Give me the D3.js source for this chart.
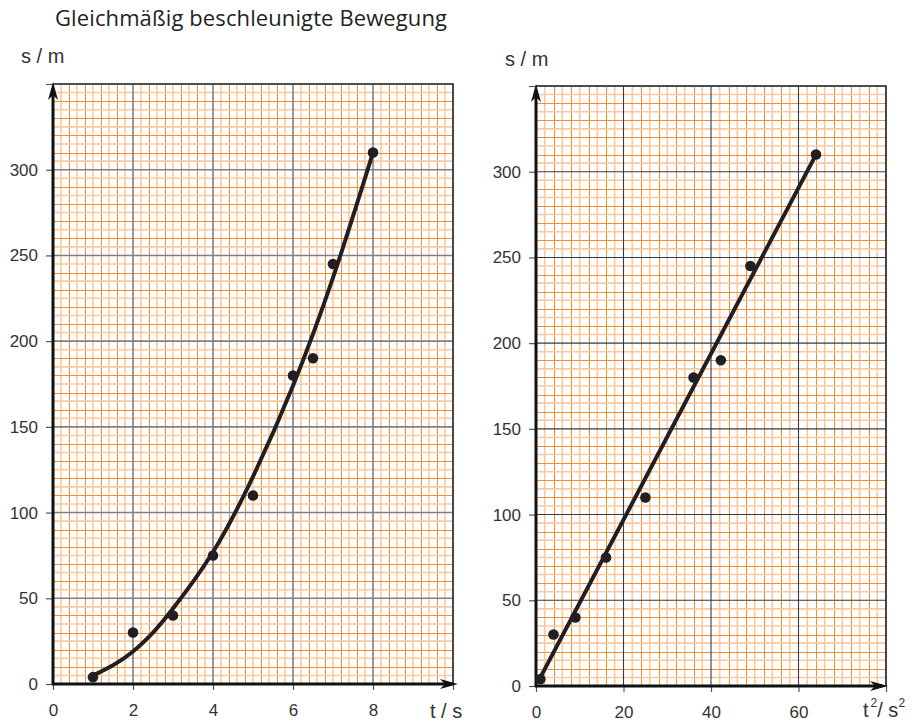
<!DOCTYPE html>
<meta charset="utf-8">
<style>
body { margin: 0; background: #fff; }
svg { display: block; }
.axis text { font-family: "Liberation Sans", Arial, sans-serif; font-size: 17px; fill: #333; }
.axis line { stroke: #555; stroke-width: 1.2px; }
.axis path { display: none; }
.label { font-family: "Liberation Sans", Arial, sans-serif; font-size: 20px; fill: #333; }
</style>
<svg width="914" height="724"></svg>
<script src="https://cdn.jsdelivr.net/npm/d3@7"></script>
<script>

var title = "Gleichmäßig beschleunigte Bewegung";

// measured values
var times = [1, 2, 3, 4, 5, 6, 6.5, 7, 8];
var timesSquared = [1, 4, 9, 16, 25, 36, 42.25, 49, 64];
var distances = [4, 30, 40, 75, 110, 180, 190, 245, 310];

// hand drawn fit curves
var fitTimes = [1, 1.5, 2, 2.5, 3, 4, 5, 6, 7, 8];
var fitDistances = [5, 11, 19, 30, 44, 77, 121, 174, 237, 310];
var fitTimesSquared = [1, 64];
var fitLineDistances = [5, 310];

// tick labels
var timeTicks = [0, 2, 4, 6, 8];
var timeSquaredTicks = [0, 20, 40, 60];
var distanceTicks = [0, 50, 100, 150, 200, 250, 300];

var svg = d3.select("svg");

svg.append("text")
    .attr("x", 55)
    .attr("y", 26)
    .attr("font-family", "'Open Sans', sans-serif")
    .attr("font-size", 22)
    .attr("fill", "#231f20")
    .attr("textLength", 392)
    .attr("lengthAdjust", "spacing")
    .text(title);

var panels = [
  {left: 53, right: 453, top: 84, bottom: 684, xMax: 10, xMinor: 0.2, xMajor: 2,
   xLabels: timeTicks, xs: times, fitX: fitTimes, fitY: fitDistances,
   curve: d3.curveNatural, majorColor: "#808080", majorWidth: 1.6, tipX: 458,
   yTitle: [21, 63], xTitle: [430, 718], squared: false},
  {left: 536, right: 886, top: 86, bottom: 686, xMax: 80, xMinor: 2, xMajor: 20,
   xLabels: timeSquaredTicks, xs: timesSquared, fitX: fitTimesSquared, fitY: fitLineDistances,
   curve: d3.curveLinear, majorColor: "#3a3a3a", majorWidth: 1.1, tipX: 888,
   yTitle: [505, 66], xTitle: [863, 717], squared: true}
];

panels.forEach(drawPanel);

function snap(v) { return Math.round(v) + 0.5; }

function drawPanel(p) {
  var x = d3.scaleLinear().domain([0, p.xMax]).range([p.left, p.right]),
      y = d3.scaleLinear().domain([0, 350]).range([p.bottom, p.top]);

  var g = svg.append("g");

  // minor lines, skipping the ones under a major line
  var xMinor = d3.range(0, Math.round(p.xMax / p.xMinor) + 1).filter(function(i) { return i % 10; }),
      yMinor = d3.range(0, 71).filter(function(i) { return i % 10; }),
      xMajor = d3.range(0, p.xMax + 0.001, p.xMajor),
      yMajor = d3.range(0, 351, 50);

  // orange paper: every other line soft, the rest crisp
  function minorStyle(sel) {
    sel.attr("stroke", function(i) { return i % 2 ? "#fbc8a0" : "#f68d33"; })
       .attr("stroke-width", function(i) { return i % 2 ? 1.6 : 1; })
       .attr("shape-rendering", function(i) { return i % 2 ? "auto" : "crispEdges"; });
  }

  function mx(i) { var v = x(i * p.xMinor); return i % 2 ? v : snap(v); }
  function my(i) { var v = y(i * 5); return i % 2 ? v : snap(v); }

  g.selectAll(".vminor").data(xMinor).enter().append("line")
      .attr("x1", mx).attr("x2", mx)
      .attr("y1", y(0)).attr("y2", y(350))
      .call(minorStyle);

  g.selectAll(".hminor").data(yMinor).enter().append("line")
      .attr("y1", my).attr("y2", my)
      .attr("x1", x(0)).attr("x2", x(p.xMax))
      .call(minorStyle);

  g.selectAll(".vmajor").data(xMajor).enter().append("line")
      .attr("x1", function(d) { return x(d); }).attr("x2", function(d) { return x(d); })
      .attr("y1", y(0)).attr("y2", y(350))
      .attr("stroke", p.majorColor).attr("stroke-width", p.majorWidth);

  g.selectAll(".hmajor").data(yMajor).enter().append("line")
      .attr("y1", function(d) { return y(d); }).attr("y2", function(d) { return y(d); })
      .attr("x1", x(0)).attr("x2", x(p.xMax))
      .attr("stroke", p.majorColor).attr("stroke-width", p.majorWidth);

  // border on top and right
  g.append("path")
      .attr("d", "M" + x(0) + "," + y(350) + "H" + x(p.xMax) + "V" + y(0))
      .attr("fill", "none").attr("stroke", "#333").attr("stroke-width", 1.6);

  // ticks + labels
  g.append("g")
      .attr("class", "axis")
      .attr("transform", "translate(0," + y(0) + ")")
      .call(d3.axisBottom(x).tickValues(xMajor).tickSize(6).tickPadding(14)
        .tickFormat(function(d) { return p.xLabels.indexOf(d) >= 0 ? d : ""; }));

  g.append("g")
      .attr("class", "axis")
      .attr("transform", "translate(" + x(0) + ",0)")
      .call(d3.axisLeft(y).tickValues(yMajor).tickSize(7).tickPadding(8)
        .tickFormat(function(d) { return distanceTicks.indexOf(d) >= 0 ? d : ""; }));

  // axes with arrows
  g.append("line")
      .attr("x1", x(0)).attr("x2", x(0)).attr("y1", y(0) + 1).attr("y2", p.top + 4)
      .attr("stroke", "#111").attr("stroke-width", 3);
  g.append("path")
      .attr("d", "M" + x(0) + "," + (p.top - 2) + "L" + (x(0) + 5) + "," + (p.top + 16) +
                 "L" + x(0) + "," + (p.top + 11) + "L" + (x(0) - 5) + "," + (p.top + 16) + "Z")
      .attr("fill", "#111");

  g.append("line")
      .attr("x1", x(0) - 1).attr("x2", p.tipX - 6).attr("y1", y(0)).attr("y2", y(0))
      .attr("stroke", "#111").attr("stroke-width", 3);
  g.append("path")
      .attr("d", "M" + p.tipX + "," + y(0) + "L" + (p.tipX - 18) + "," + (y(0) - 5) +
                 "L" + (p.tipX - 13) + "," + y(0) + "L" + (p.tipX - 18) + "," + (y(0) + 5) + "Z")
      .attr("fill", "#111");

  // fit curve
  var fit = p.fitX.map(function(d, i) { return [d, p.fitY[i]]; });
  g.append("path")
      .datum(fit)
      .attr("fill", "none")
      .attr("stroke", "#231f20")
      .attr("stroke-width", 4)
      .attr("stroke-linecap", "round")
      .attr("d", d3.line().curve(p.curve)
        .x(function(d) { return x(d[0]); })
        .y(function(d) { return y(d[1]); }));

  // measured points
  g.selectAll(".dot").data(p.xs).enter().append("circle")
      .attr("cx", function(d) { return x(d); })
      .attr("cy", function(d, i) { return y(distances[i]); })
      .attr("r", 5.3)
      .attr("fill", "#231f20");

  // axis titles
  svg.append("text").attr("class", "label")
      .attr("x", p.yTitle[0]).attr("y", p.yTitle[1])
      .text("s / m");

  var xt = svg.append("text").attr("class", "label")
      .attr("x", p.xTitle[0]).attr("y", p.xTitle[1]);
  if (p.squared) {
    xt.append("tspan").text("t");
    xt.append("tspan").attr("dx", 2).attr("dy", -10).attr("font-size", 12).text("2");
    xt.append("tspan").attr("dy", 10).text("/ s");
    xt.append("tspan").attr("dy", -10).attr("font-size", 12).text("2");
  } else {
    xt.text("t / s");
  }
}

</script>
